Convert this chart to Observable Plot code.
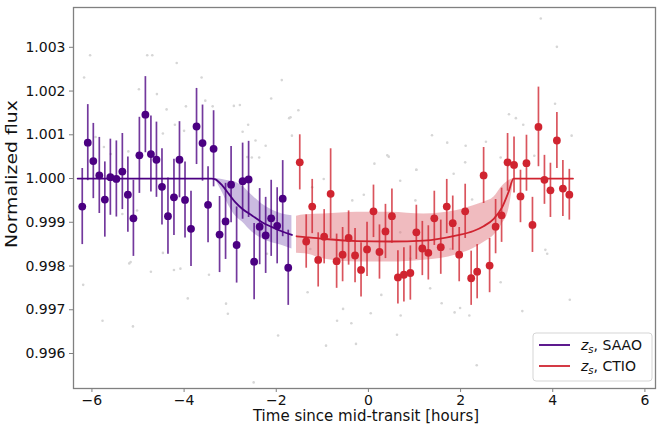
<!DOCTYPE html>
<html><head><meta charset="utf-8">
<script src="https://cdn.jsdelivr.net/npm/d3@7"></script>
<script src="https://cdn.jsdelivr.net/npm/@observablehq/plot@0.6"></script>
<style>
html,body{margin:0;padding:0;background:#fff;}
#chart{width:657px;height:430px;}
</style></head><body><div id="chart"></div>
<script>
// ---- binned SAAO data (z_s) ----
const saaoTime = [-6.21,-6.09,-5.97,-5.84,-5.72,-5.60,-5.47,-5.34,-5.22,-5.10,-4.97,-4.84,-4.72,-4.60,-4.48,-4.35,-4.22,-4.10,-3.98,-3.85,-3.73,-3.60,-3.48,-3.36,-3.23,-3.10,-2.98,-2.86,-2.73,-2.60,-2.48,-2.36,-2.23,-2.11,-1.98,-1.86,-1.74];
const saaoFlux = [0.99936,1.00082,1.00040,1.00007,0.99952,1.00003,0.99999,1.00016,0.99963,0.99909,1.00053,1.00146,1.00056,1.00043,0.99981,0.99914,0.99957,1.00043,0.99951,0.99885,1.00119,1.00081,0.99940,1.00068,0.99872,0.99902,0.99986,0.99848,0.99994,0.99998,0.99810,0.99890,0.99870,0.99909,0.99892,0.99954,0.99796];
const saaoErr  = [0.00087,0.00087,0.00086,0.00087,0.00086,0.00087,0.00087,0.00087,0.00086,0.00087,0.00087,0.00087,0.00087,0.00086,0.00087,0.00087,0.00087,0.00087,0.00087,0.00086,0.00087,0.00087,0.00087,0.00087,0.00087,0.00087,0.00087,0.00087,0.00087,0.00087,0.00087,0.00087,0.00087,0.00087,0.00087,0.00087,0.00086];

// ---- binned CTIO data (z_s) ----
const ctioTime = [-1.49,-1.35,-1.22,-1.09,-0.96,-0.82,-0.69,-0.56,-0.43,-0.29,-0.16,-0.03,0.11,0.24,0.37,0.51,0.64,0.77,0.91,1.04,1.17,1.30,1.43,1.57,1.70,1.83,1.97,2.10,2.23,2.36,2.50,2.63,2.76,2.89,3.02,3.16,3.30,3.43,3.56,3.69,3.82,3.95,4.09,4.22,4.36];
const ctioFlux = [1.00037,0.99856,0.99936,0.99814,0.99867,0.99965,0.99811,0.99826,0.99864,0.99824,0.99791,0.99838,0.99925,0.99832,0.99879,0.99914,0.99774,0.99780,0.99784,0.99877,0.99840,0.99830,0.99909,0.99843,0.99936,0.99898,0.99826,0.99925,0.99772,0.99787,1.00007,0.99801,0.99890,0.99916,1.00037,1.00031,0.99959,1.00035,0.99894,1.00118,0.99997,0.99973,1.00087,0.99977,0.99963];
const ctioErr  = [0.00063,0.00061,0.00062,0.00062,0.00062,0.00103,0.00062,0.00062,0.00062,0.00062,0.00062,0.00062,0.00060,0.00062,0.00062,0.00062,0.00061,0.00062,0.00062,0.00062,0.00062,0.00062,0.00062,0.00062,0.00062,0.00062,0.00062,0.00062,0.00062,0.00062,0.00064,0.00062,0.00062,0.00062,0.00066,0.00064,0.00060,0.00064,0.00063,0.00091,0.00056,0.00062,0.00064,0.00064,0.00058];

// ---- transit models ----
const saaoModelTime = [-6.31,-3.40,-3.32,-3.17,-3.03,-2.89,-2.74,-2.52,-2.31,-2.09,-1.87,-1.66];
const saaoModelFlux = [1.00000,1.00000,0.99998,0.99984,0.99965,0.99946,0.99931,0.99915,0.99900,0.99889,0.99879,0.99871];
const saaoBandTime = [-3.32,-3.17,-3.03,-2.89,-2.74,-2.52,-2.31,-2.09,-1.87,-1.66];
const saaoBandHi   = [1.00000,0.99998,0.99995,0.99992,0.99983,0.99961,0.99942,0.99928,0.99919,0.99915];
const saaoBandLo   = [0.99998,0.99968,0.99938,0.99915,0.99901,0.99877,0.99863,0.99853,0.99847,0.99839];

const ctioModelTime = [-1.56,-1.37,-0.97,-0.25,0.48,1.20,1.92,2.28,2.50,2.72,2.90,3.04,3.15,4.44];
const ctioModelFlux = [0.99868,0.99866,0.99862,0.99857,0.99856,0.99858,0.99870,0.99880,0.99891,0.99908,0.99934,0.99969,1.00000,1.00000];
const ctioBandTime = [-1.56,-1.37,-0.97,-0.25,0.48,1.20,1.92,2.28,2.50,2.72,2.90,3.04,3.15];
const ctioBandHi   = [0.99914,0.99917,0.99919,0.99923,0.99923,0.99919,0.99927,0.99938,0.99946,0.99957,0.99982,0.99995,1.00000];
const ctioBandLo   = [0.99829,0.99828,0.99816,0.99809,0.99809,0.99813,0.99826,0.99840,0.99854,0.99870,0.99896,0.99927,0.99995];

// ---- unbinned background points (faint grey) ----
const bgTime = [-6.04,-4.80,-4.69,-6.17,-4.16,-3.62,-1.88,-2.11,3.74,4.09,4.05,3.05,-4.98,-4.59,-4.38,-3.96,-3.54,-3.38,-2.92,-2.79,-2.61,-2.73,-1.72,-1.52,-1.66,-2.23,0.13,0.44,1.38,1.71,2.11,3.20,3.36,3.60,4.41,2.55,-5.92,-5.59,-5.21,-4.46,-4.20,-4.00,-2.53,-2.37,1.04,2.87,
  -6.19,-5.77,-5.11,-5.19,-4.72,-4.46,-4.22,-3.92,-3.46,-3.09,-3.05,-1.96,-1.32,-0.92,-0.27,-0.68,-0.55,-0.37,0.05,0.28,0.62,0.70,1.34,1.59,1.87,1.99,2.19,2.35,2.87,3.34,3.88,4.37,-2.49,-4.08,3.84,
  0.41,1.04,0.69,-0.10,1.85,2.10,-1.69,-0.35,-0.97,-1.22,1.02,2.25,-1.26,0.69,1.78,0.91,-5.16,-2.45,-2.63,-2.20,-5.74,-5.02,-5.34];
const bgFlux = [1.00282,1.00282,1.00282,1.00231,1.00264,1.00231,1.00225,1.00183,1.00366,1.00301,1.00171,1.00147,1.00204,1.00193,1.00158,1.00165,1.00178,1.00165,1.00166,1.00168,1.00123,1.00107,1.00138,1.00156,1.00098,1.00075,1.00034,1.00050,1.00099,1.00082,1.00075,1.00138,1.00123,1.00052,1.00098,1.00084,1.00095,1.00056,1.00062,1.00103,1.00123,1.00109,1.00048,1.00048,1.00020,1.00048,
  0.99757,0.99675,0.99662,0.99806,0.99787,0.99830,0.99791,0.99726,0.99780,0.99714,0.99691,0.99641,0.99740,0.99618,0.99622,0.99675,0.99702,0.99669,0.99692,0.99734,0.99643,0.99687,0.99749,0.99715,0.99694,0.99704,0.99687,0.99573,0.99763,0.99697,0.99828,0.99723,0.99534,0.99794,0.99837,
  1.00053,1.00020,0.99995,0.99963,1.00011,1.00037,1.00140,0.99950,0.99999,0.99980,0.99950,0.99952,0.99839,0.99877,0.99839,0.99817,0.99809,1.00087,1.00049,0.99828,1.00072,0.99927,0.99919];

// ---- axes ----
const xTicks = [-6,-4,-2,0,2,4,6];
const yTicks = [0.996,0.997,0.998,0.999,1.000,1.001,1.002,1.003];
const seriesNames = ["SAAO","CTIO"];

const purple = "#4B0082", red = "#d02430";

const saao = saaoTime.map((t,i)=>({t, f:saaoFlux[i], e:saaoErr[i]}));
const ctio = ctioTime.map((t,i)=>({t, f:ctioFlux[i], e:ctioErr[i]}));
const saaoLine = saaoModelTime.map((t,i)=>({t, f:saaoModelFlux[i]}));
const ctioLine = ctioModelTime.map((t,i)=>({t, f:ctioModelFlux[i]}));
const saaoBand = saaoBandTime.map((t,i)=>({t, lo:saaoBandLo[i], hi:saaoBandHi[i]}));
const ctioBand = ctioBandTime.map((t,i)=>({t, lo:ctioBandLo[i], hi:ctioBandHi[i]}));
const bg = bgTime.map((t,i)=>({t, f:bgFlux[i]}));

const fmtX = d => d < 0 ? "\u2212" + Math.abs(d) : String(d);

const plot = Plot.plot({
  width: 657, height: 430,
  marginLeft: 73, marginRight: 2, marginTop: 7, marginBottom: 42,
  style: {fontFamily: "DejaVu Sans", fontSize: "14px", color: "#111", background: "#fff", overflow: "visible"},
  x: {domain: [-6.40, 6.23]},
  y: {domain: [0.99520, 1.00391]},
  marks: [
    Plot.dot(bg, {x:"t", y:"f", r:1.3, fill:"#d6d6d6"}),
    Plot.areaY(saaoBand, {x:"t", y1:"lo", y2:"hi", fill:"#8a68bb", fillOpacity:0.45, curve:"monotone-x"}),
    Plot.areaY(ctioBand, {x:"t", y1:"lo", y2:"hi", fill:"#e27880", fillOpacity:0.5, curve:"monotone-x"}),
    Plot.line(saaoLine, {x:"t", y:"f", stroke:purple, strokeWidth:1.8, curve:"monotone-x"}),
    Plot.line(ctioLine, {x:"t", y:"f", stroke:red, strokeWidth:1.8, curve:"monotone-x"}),
    Plot.ruleX(saao, {x:"t", y1:d=>d.f-d.e, y2:d=>d.f+d.e, stroke:purple, strokeOpacity:0.78, strokeWidth:1.7}),
    Plot.ruleX(ctio, {x:"t", y1:d=>d.f-d.e, y2:d=>d.f+d.e, stroke:red, strokeOpacity:0.78, strokeWidth:1.7}),
    Plot.dot(saao, {x:"t", y:"f", r:3.9, fill:purple}),
    Plot.dot(ctio, {x:"t", y:"f", r:3.9, fill:red}),
    Plot.frame({stroke:"#808080", strokeWidth:1.3}),
    Plot.axisX(xTicks, {tickSize:4, tickPadding:3, tickFormat:fmtX, stroke:"#808080", fill:"#111", label:null}),
    Plot.axisY(yTicks, {tickSize:4, tickPadding:4, tickFormat:d3.format(".3f"), stroke:"#808080", fill:"#111", label:null})
  ]
});
document.getElementById("chart").appendChild(plot);

const svg = d3.select(plot);
svg.append("text").attr("x", 366).attr("y", 421).attr("text-anchor","middle")
  .attr("font-size", 15).attr("fill","#111").text("Time since mid-transit [hours]");
svg.append("text").attr("transform","translate(17,174) rotate(-90)").attr("text-anchor","middle")
  .attr("font-size", 15).attr("fill","#111").attr("textLength", 148).attr("lengthAdjust","spacingAndGlyphs")
  .text("Normalized flux");

// legend
const lg = svg.append("g").attr("text-anchor","start");
lg.append("rect").attr("x",533).attr("y",333).attr("width",119).attr("height",48).attr("rx",3)
  .attr("fill","#fff").attr("fill-opacity",0.85).attr("stroke","#d5d5d5");
[[purple, 345], [red, 366]].forEach(([c, y], i) => {
  lg.append("line").attr("x1",539).attr("x2",570).attr("y1",y).attr("y2",y).attr("stroke",c).attr("stroke-width",1.8);
  const t = lg.append("text").attr("x",581).attr("y",y+5).attr("font-size",14).attr("fill","#111").attr("text-anchor","start");
  t.append("tspan").attr("font-style","italic").text("z");
  t.append("tspan").attr("font-style","italic").attr("font-size",10).attr("dy",3).text("s");
  t.append("tspan").attr("dy",-3).text(", " + seriesNames[i]);
});
</script>
</body></html>
